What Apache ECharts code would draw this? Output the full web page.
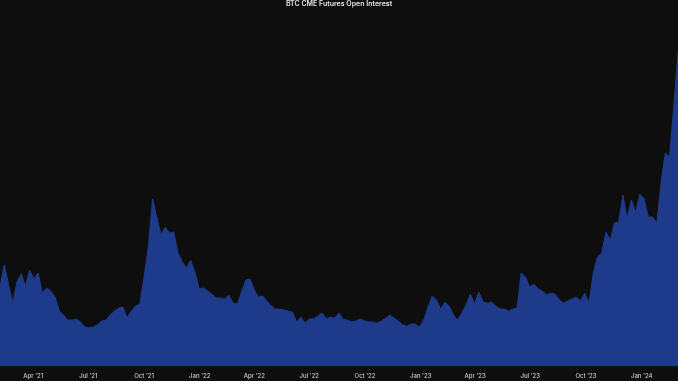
<!DOCTYPE html>
<html>
<head>
<meta charset="utf-8">
<script src="https://cdn.jsdelivr.net/npm/echarts@6/dist/echarts.min.js"></script>
<style>
  html, body { margin: 0; padding: 0; background: #0e0e0e; }
  #chart { width: 678px; height: 381px; }
</style>
</head>
<body>
<div id="chart"></div>
<script>
// Weekly observations (Fridays), first week and count
const firstWeek = '2021-02-05';
// Open interest (USD billions, approximate), one value per week
const openInterest = [
  2.63, 3.37, 2.73, 2.10, 2.80, 3.07, 2.67, 3.20, 2.90, 3.10,
  2.43, 2.60, 2.50, 2.30, 1.83, 1.70, 1.53, 1.53, 1.57, 1.47,
  1.30, 1.27, 1.30, 1.37, 1.50, 1.53, 1.70, 1.83, 1.93, 1.97,
  1.60, 1.83, 2.00, 2.07, 2.97, 3.97, 5.57, 4.97, 4.37, 4.63,
  4.43, 4.47, 3.77, 3.47, 3.27, 3.53, 3.13, 2.57, 2.60, 2.50,
  2.40, 2.27, 2.27, 2.23, 2.37, 2.10, 2.07, 2.47, 2.87, 2.90,
  2.53, 2.30, 2.33, 2.17, 2.00, 1.90, 1.90, 1.87, 1.83, 1.80,
  1.47, 1.63, 1.43, 1.57, 1.57, 1.67, 1.77, 1.57, 1.63, 1.60,
  1.77, 1.55, 1.53, 1.47, 1.50, 1.57, 1.50, 1.47, 1.47, 1.43,
  1.50, 1.60, 1.70, 1.60, 1.50, 1.37, 1.33, 1.40, 1.40, 1.30,
  1.53, 1.97, 2.33, 2.20, 1.90, 2.13, 2.00, 1.70, 1.53, 1.77,
  2.03, 2.40, 2.07, 2.47, 2.13, 2.10, 2.13, 2.00, 1.90, 1.90,
  1.83, 1.90, 1.93, 3.10, 2.97, 2.63, 2.73, 2.57, 2.50, 2.37,
  2.43, 2.40, 2.20, 2.10, 2.17, 2.23, 2.30, 2.17, 2.43, 2.10,
  3.10, 3.63, 3.77, 4.47, 4.20, 4.77, 4.80, 5.70, 4.90, 5.53,
  5.13, 5.73, 5.57, 4.97, 4.97, 4.77, 6.10, 7.10, 6.97, 8.63,
  10.47
];
// Quarter tick dates and their labels
const tickDates = ['2021-04-01','2021-07-01','2021-10-01','2022-01-01','2022-04-01','2022-07-01',
                   '2022-10-01','2023-01-01','2023-04-01','2023-07-01','2023-10-01','2024-01-01'];
const tickLabels = ["Apr '21","Jul '21","Oct '21","Jan '22","Apr '22","Jul '22",
                    "Oct '22","Jan '23","Apr '23","Jul '23","Oct '23","Jan '24"];
const titleText = 'BTC CME Futures Open Interest';

function toMs(s) { const p = s.split('-').map(Number); return Date.UTC(p[0], p[1] - 1, p[2]); }
const WEEK = 7 * 864e5;
const start = toMs(firstWeek);
const seriesData = openInterest.map((v, i) => [start + i * WEEK, v]);
const tickMs = tickDates.map(toMs);

const chart = echarts.init(document.getElementById('chart'), null, { renderer: 'canvas' });
chart.setOption({
  backgroundColor: '#0e0e0e',
  animation: false,
  title: {
    text: titleText,
    left: 'center',
    top: 0,
    padding: 0,
    textStyle: { color: '#e6e6e6', fontSize: 7, fontWeight: 600, fontFamily: 'Inter', lineHeight: 8 }
  },
  grid: { left: 0, right: 0, top: 6, bottom: 15, containLabel: false },
  xAxis: {
    type: 'value',
    min: start,
    max: start + (openInterest.length - 1) * WEEK,
    axisLine: { show: false },
    axisTick: { show: false },
    splitLine: { show: false },
    axisLabel: {
      customValues: tickMs,
      color: '#cfcfcf',
      fontSize: 6,
      fontFamily: 'Inter',
      fontWeight: 500,
      margin: 7,
      hideOverlap: false,
      formatter: function (val) {
        let best = 0, bd = Infinity;
        tickMs.forEach((t, i) => { const d = Math.abs(t - val); if (d < bd) { bd = d; best = i; } });
        return tickLabels[best];
      }
    }
  },
  yAxis: { type: 'value', min: 0, max: 12, show: false, splitLine: { show: false } },
  series: [{
    type: 'line',
    data: seriesData,
    showSymbol: false,
    symbol: 'none',
    lineStyle: { color: '#1f3b8c', width: 1 },
    areaStyle: { color: '#1e3a8a', opacity: 1 }
  }]
});
</script>
</body>
</html>
